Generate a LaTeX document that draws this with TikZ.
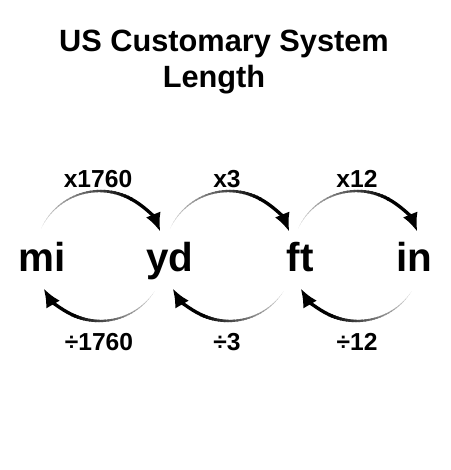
\documentclass[tikz,border=0pt]{standalone}
\usepackage{fontspec}
\setmainfont{Liberation Sans}
\usepackage{tikz}
\usetikzlibrary{arrows.meta,calc}

% one fading arc: centre, start angle, end angle
\newcommand{\fadearc}[3]{%
  \foreach \i in {0,...,29}{
    \pgfmathsetmacro{\aa}{#2+(#3-#2)*0.7*\i/30}
    \pgfmathsetmacro{\ab}{#2+(#3-#2)*0.7*(\i+1.4)/30}
    \pgfmathsetmacro{\lw}{0.1+1.8*\i/29}
    \pgfmathsetmacro{\shade}{10+90*\i/29}
    \draw[line width=\lw pt,black!\shade] ([shift={(\aa:65)}]#1) arc[start angle=\aa,end angle=\ab,radius=65];
  }
  \pgfmathsetmacro{\ac}{#2+(#3-#2)*0.7}
  \draw[line width=1.9pt,-{Latex[length=10.5pt,width=9pt]}] ([shift={(\ac:65)}]#1) arc[start angle=\ac,end angle=#3,radius=65];
}

\begin{document}
\begin{tikzpicture}[x=0.02cm,y=0.02cm,
    unit/.style={font=\fontsize{23}{26}\selectfont\bfseries,anchor=base},
    factor/.style={font=\fontsize{14}{16}\selectfont\bfseries},
    heading/.style={font=\fontsize{17.5}{20}\selectfont\bfseries,anchor=base}]
  \useasboundingbox (0,0) rectangle (450,470);

  \node[heading] (title) at (224,418) {US Customary System};
  \node[heading] (sub) at (214,382) {Length};

  \node[unit] (mi) at (42,198) {mi};
  \node[unit] (yd) at (170,198) {yd};
  \node[unit] (ft) at (300,198) {ft};
  \node[unit] (in) at (414,198) {in};

  \coordinate (c1) at (100,214);
  \coordinate (c2) at (229,214);
  \coordinate (c3) at (357,214);

  \node[factor] (m1) at (98,291) {x1760};
  \node[factor] (m2) at (227,291) {x3};
  \node[factor] (m3) at (357,291) {x12};
  \node[factor] (d1) at (99,128) {÷1760};
  \node[factor] (d2) at (227,128) {÷3};
  \node[factor] (d3) at (357,128) {÷12};

  \foreach \c in {c1,c2,c3}{
    \fadearc{\c}{155}{22}
    \fadearc{\c}{-33}{-150}
  }
\end{tikzpicture}
\end{document}
